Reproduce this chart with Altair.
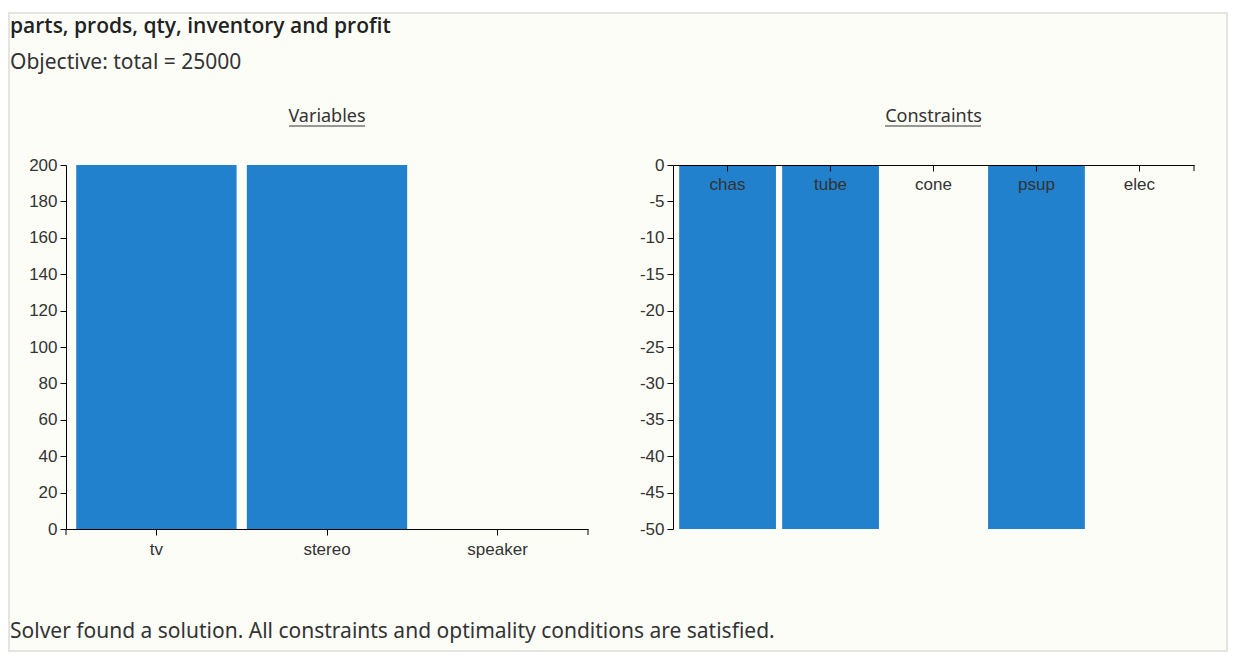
import altair as alt
import pandas as pd

# ---- data ----
var_names = ["tv", "stereo", "speaker"]
var_values = [200, 200, 0]
con_names = ["chas", "tube", "cone", "psup", "elec"]
con_values = [-50, -50, 0, -50, 0]
var_ticks = [0, 20, 40, 60, 80, 100, 120, 140, 160, 180, 200]
con_ticks = [0, -5, -10, -15, -20, -25, -30, -35, -40, -45, -50]

title_text = "parts, prods, qty, inventory and profit"
subtitle_text = "Objective: total = 25000"
left_title = "Variables"
right_title = "Constraints"
footer_text = "Solver found a solution. All constraints and optimality conditions are satisfied."

W, H = 1128, 364
LEFT_W = 522
RIGHT_X0, RIGHT_X1 = 607, 1128

BLUE = "#2181cc"
AXIS_FONT = "Liberation Sans"
TEXT_FONT = "Noto Sans"

vars_df = pd.DataFrame({"name": var_names, "value": var_values})
cons_df = pd.DataFrame({"name": con_names, "value": con_values})
one = pd.DataFrame({"k": [0]})

axis_common = dict(
    domainColor="#000", domainWidth=1, tickColor="#000", tickSize=6,
    labelFont=AXIS_FONT, labelFontSize=17, labelColor="#333",
    grid=False, title=None, zindex=1,
)

# border/background box
box = alt.Chart(one).mark_rect(fill="#fdfdf8", stroke="#e4e4e4", strokeWidth=2).encode(
    x=alt.value(-57), x2=alt.value(1161), y=alt.value(-152), y2=alt.value(486)
)

left = alt.Chart(vars_df).mark_bar(color=BLUE).encode(
    x=alt.X("name:N", sort=var_names,
            scale=alt.Scale(range=[0, LEFT_W], paddingInner=0.06, paddingOuter=0.06),
            axis=alt.Axis(orient="bottom", labelAngle=0, labelPadding=6, **axis_common)),
    y=alt.Y("value:Q", scale=alt.Scale(domain=[0, 200], nice=False),
            axis=alt.Axis(orient="left", values=var_ticks, labelPadding=3,
                          labelExpr="toString(datum.value)", **axis_common)),
)

right = alt.Chart(cons_df).mark_bar(color=BLUE).encode(
    x=alt.X("name:N", sort=con_names,
            scale=alt.Scale(range=[RIGHT_X0, RIGHT_X1], paddingInner=0.06, paddingOuter=0.06),
            axis=alt.Axis(orient="bottom", offset=-H, labelAngle=0, labelPadding=5, **axis_common)),
    y=alt.Y("value:Q", scale=alt.Scale(domain=[-50, 0], nice=False),
            axis=alt.Axis(orient="left", offset=-RIGHT_X0, values=con_ticks, labelPadding=3,
                          labelExpr="toString(datum.value)", **axis_common)),
)

# outer ticks (d3 style)
outer = alt.Chart(one).mark_rule(color="#000", strokeWidth=1)
outer_ticks = (
    outer.encode(x=alt.value(0), y=alt.value(H), y2=alt.value(H + 6))
    + outer.encode(x=alt.value(LEFT_W), y=alt.value(H), y2=alt.value(H + 6))
    + outer.encode(x=alt.value(RIGHT_X1), y=alt.value(0), y2=alt.value(6))
)

def txt(s, x, y, size, color, weight="normal", align="left", font=TEXT_FONT):
    return alt.Chart(one).mark_text(
        text=s, font=font, fontSize=size, color=color, fontWeight=weight,
        align=align, baseline="middle",
    ).encode(x=alt.value(x), y=alt.value(y))

texts = (
    txt(title_text, -56, -138, 21, "#222", weight=600, font="Open Sans")
    + txt(subtitle_text, -56, -102, 21, "#333")
    + txt(left_title, LEFT_W / 2, -48, 18, "#333", align="center")
    + txt(right_title, (RIGHT_X0 + RIGHT_X1) / 2, -48, 18, "#333", align="center")
    + txt(footer_text, -56, 467, 21, "#333")
)

underline = alt.Chart(one).mark_rule(color="#333", strokeWidth=1)
underlines = (
    underline.encode(x=alt.value(223), x2=alt.value(299), y=alt.value(-39))
    + underline.encode(x=alt.value(819), x2=alt.value(915), y=alt.value(-39))
)

chart = alt.layer(box, left, right, outer_ticks, texts, underlines).resolve_scale(
    x="independent", y="independent"
).resolve_axis(
    x="independent", y="independent"
).properties(
    width=W, height=H, background="white", padding={"left": 0, "top": 4, "right": 5, "bottom": 5}
).configure_view(stroke="transparent")

chart.save("out.html", embed_options={"renderer": "svg", "actions": False})
